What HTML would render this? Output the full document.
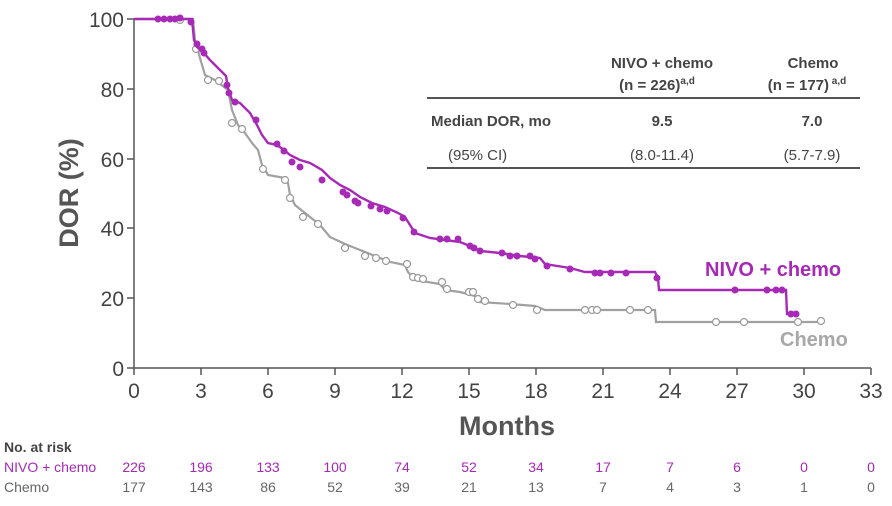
<!DOCTYPE html>
<html><head><meta charset="utf-8"><style>
html,body{margin:0;padding:0;background:#fff;}
svg{display:block;font-family:"Liberation Sans",sans-serif;}
</style></head><body>
<svg width="892" height="506" viewBox="0 0 892 506" xmlns="http://www.w3.org/2000/svg">
<line x1="134" y1="19" x2="134" y2="368" stroke="#555" stroke-width="1.5"/>
<line x1="134" y1="368" x2="871" y2="368" stroke="#555" stroke-width="1.5"/>
<g stroke="#555" stroke-width="1.5">
<line x1="127" y1="19" x2="134" y2="19"/><line x1="127" y1="89" x2="134" y2="89"/><line x1="127" y1="159" x2="134" y2="159"/><line x1="127" y1="228" x2="134" y2="228"/><line x1="127" y1="298" x2="134" y2="298"/><line x1="127" y1="368" x2="134" y2="368"/>
<line x1="134" y1="368" x2="134" y2="375"/><line x1="201" y1="368" x2="201" y2="375"/><line x1="268" y1="368" x2="268" y2="375"/><line x1="335" y1="368" x2="335" y2="375"/><line x1="402" y1="368" x2="402" y2="375"/><line x1="469" y1="368" x2="469" y2="375"/><line x1="536" y1="368" x2="536" y2="375"/><line x1="603" y1="368" x2="603" y2="375"/><line x1="670" y1="368" x2="670" y2="375"/><line x1="737" y1="368" x2="737" y2="375"/><line x1="804" y1="368" x2="804" y2="375"/><line x1="871" y1="368" x2="871" y2="375"/>
</g>
<g fill="#444" font-size="21" text-anchor="end">
<text x="124" y="27">100</text><text x="124" y="97">80</text><text x="124" y="167">60</text><text x="124" y="236">40</text><text x="124" y="306">20</text><text x="124" y="376">0</text>
</g>
<g fill="#444" font-size="21" text-anchor="middle">
<text x="134" y="398">0</text><text x="201" y="398">3</text><text x="268" y="398">6</text><text x="335" y="398">9</text><text x="402" y="398">12</text><text x="469" y="398">15</text><text x="536" y="398">18</text><text x="603" y="398">21</text><text x="670" y="398">24</text><text x="737" y="398">27</text><text x="804" y="398">30</text><text x="871" y="398">33</text>
</g>
<text x="507" y="435" fill="#555" font-size="27" font-weight="bold" text-anchor="middle">Months</text>
<text transform="translate(78,193) rotate(-90)" fill="#555" font-size="27" font-weight="bold" text-anchor="middle">DOR (%)</text>

<polyline fill="none" stroke="#a0a0a0" stroke-width="2.2" points="134,19 193,19 195,40 200,58 205,75 215,80 228,90 232,110 238,125 245,133 252,143 258,150 262,165 268,175 285,178 288,183 290,195 295,205 305,213 320,225 330,237 345,244 360,250 375,256 390,262 405,265 408,272 415,280 440,284 445,290 460,292 475,296 480,302 510,304 535,306 545,310 655,310 656,322 822,322"/>
<g fill="#fff" stroke="#999" stroke-width="1.2">
<circle cx="180" cy="20" r="3.5"/><circle cx="196" cy="49" r="3.5"/><circle cx="208" cy="80" r="3.5"/><circle cx="219" cy="81" r="3.5"/><circle cx="232" cy="123" r="3.5"/><circle cx="242" cy="129" r="3.5"/><circle cx="263" cy="169" r="3.5"/><circle cx="285" cy="180" r="3.5"/><circle cx="290" cy="198" r="3.5"/><circle cx="303" cy="217" r="3.5"/><circle cx="318" cy="224" r="3.5"/><circle cx="345" cy="248" r="3.5"/><circle cx="365" cy="256" r="3.5"/><circle cx="376" cy="258" r="3.5"/><circle cx="386" cy="261" r="3.5"/><circle cx="407" cy="264" r="3.5"/><circle cx="413" cy="277" r="3.5"/><circle cx="418" cy="278" r="3.5"/><circle cx="423" cy="279" r="3.5"/><circle cx="442" cy="282" r="3.5"/><circle cx="447" cy="289" r="3.5"/><circle cx="469" cy="292" r="3.5"/><circle cx="473" cy="292" r="3.5"/><circle cx="478" cy="299" r="3.5"/><circle cx="485" cy="301" r="3.5"/><circle cx="513" cy="305" r="3.5"/><circle cx="537" cy="310" r="3.5"/><circle cx="585" cy="310" r="3.5"/><circle cx="592" cy="310" r="3.5"/><circle cx="597" cy="310" r="3.5"/><circle cx="630" cy="310" r="3.5"/><circle cx="648" cy="310" r="3.5"/><circle cx="716" cy="322" r="3.5"/><circle cx="744" cy="322" r="3.5"/><circle cx="798" cy="322" r="3.5"/><circle cx="821" cy="321" r="3.5"/>
</g>

<polyline fill="none" stroke="#a72ab6" stroke-width="2.4" points="134,19 192,19 194,40 197,47 203,52 210,60 222,72 226,76 228,88 232,100 240,103 250,113 257,125 262,135 268,143 277,145 284,150 290,155 300,160 310,163 322,170 330,178 340,185 350,190 360,197 372,203 385,207 398,213 405,217 410,225 415,233 430,238 445,240 460,242 470,246 480,251 500,253 520,256 540,258 545,264 570,268 585,272 655,272 658,278 659,290 786,290 787,314 797,314"/>
<g fill="#a72ab6">
<circle cx="158" cy="19" r="3.5"/><circle cx="164" cy="19" r="3.5"/><circle cx="170" cy="19" r="3.5"/><circle cx="175" cy="19" r="3.5"/><circle cx="180" cy="18" r="3.5"/><circle cx="191" cy="22" r="3.5"/><circle cx="197" cy="44" r="3.5"/><circle cx="202" cy="49" r="3.5"/><circle cx="204" cy="53" r="3.5"/><circle cx="227" cy="85" r="3.5"/><circle cx="229" cy="93" r="3.5"/><circle cx="235" cy="102" r="3.5"/><circle cx="256" cy="120" r="3.5"/><circle cx="277" cy="144" r="3.5"/><circle cx="284" cy="151" r="3.5"/><circle cx="292" cy="162" r="3.5"/><circle cx="300" cy="167" r="3.5"/><circle cx="322" cy="180" r="3.5"/><circle cx="343" cy="192" r="3.5"/><circle cx="347" cy="195" r="3.5"/><circle cx="355" cy="201" r="3.5"/><circle cx="358" cy="203" r="3.5"/><circle cx="371" cy="206" r="3.5"/><circle cx="380" cy="209" r="3.5"/><circle cx="387" cy="211" r="3.5"/><circle cx="403" cy="218" r="3.5"/><circle cx="414" cy="232" r="3.5"/><circle cx="440" cy="239" r="3.5"/><circle cx="447" cy="239" r="3.5"/><circle cx="458" cy="239" r="3.5"/><circle cx="470" cy="246" r="3.5"/><circle cx="474" cy="248" r="3.5"/><circle cx="480" cy="251" r="3.5"/><circle cx="502" cy="253" r="3.5"/><circle cx="510" cy="256" r="3.5"/><circle cx="517" cy="256" r="3.5"/><circle cx="530" cy="256" r="3.5"/><circle cx="535" cy="259" r="3.5"/><circle cx="547" cy="266" r="3.5"/><circle cx="570" cy="269" r="3.5"/><circle cx="595" cy="273" r="3.5"/><circle cx="600" cy="273" r="3.5"/><circle cx="611" cy="273" r="3.5"/><circle cx="626" cy="273" r="3.5"/><circle cx="657" cy="278" r="3.5"/><circle cx="735" cy="290" r="3.5"/><circle cx="767" cy="290" r="3.5"/><circle cx="776" cy="290" r="3.5"/><circle cx="782" cy="290" r="3.5"/><circle cx="791" cy="314" r="3.5"/><circle cx="796" cy="314" r="3.5"/>
</g>
<text x="705" y="276" fill="#a72ab6" font-size="20" font-weight="bold">NIVO + chemo</text>
<text x="780" y="346" fill="#a8a8a8" font-size="20" font-weight="bold">Chemo</text>

<line x1="427" y1="98" x2="860" y2="98" stroke="#555" stroke-width="2"/>
<line x1="427" y1="168" x2="860" y2="168" stroke="#555" stroke-width="2"/>
<g fill="#444" font-size="15" font-weight="bold" text-anchor="middle">
<text x="662" y="68">NIVO + chemo</text>
<text x="657" y="90">(n = 226)<tspan font-size="10" dy="-6">a,d</tspan></text>
<text x="813" y="68">Chemo</text>
<text x="807" y="90">(n = 177)<tspan font-size="10" dy="-6"> a,d</tspan></text>
<text x="662" y="126">9.5</text>
<text x="812" y="126">7.0</text>
</g>
<text x="431" y="126" fill="#444" font-size="15" font-weight="bold">Median DOR, mo</text>
<text x="448" y="160" fill="#444" font-size="15">(95% CI)</text>
<g fill="#444" font-size="15" text-anchor="middle">
<text x="662" y="160">(8.0-11.4)</text>
<text x="812" y="160">(5.7-7.9)</text>
</g>

<text x="4" y="452" fill="#444" font-size="14" font-weight="bold">No. at risk</text>
<text x="4" y="472" fill="#a72ab6" font-size="14">NIVO + chemo</text>
<text x="4" y="492" fill="#666" font-size="14">Chemo</text>
<g fill="#a72ab6" font-size="14" text-anchor="middle">
<text x="134" y="472">226</text><text x="201" y="472">196</text><text x="268" y="472">133</text><text x="335" y="472">100</text><text x="402" y="472">74</text><text x="469" y="472">52</text><text x="536" y="472">34</text><text x="603" y="472">17</text><text x="670" y="472">7</text><text x="737" y="472">6</text><text x="804" y="472">0</text><text x="871" y="472">0</text>
</g>
<g fill="#666" font-size="14" text-anchor="middle">
<text x="134" y="492">177</text><text x="201" y="492">143</text><text x="268" y="492">86</text><text x="335" y="492">52</text><text x="402" y="492">39</text><text x="469" y="492">21</text><text x="536" y="492">13</text><text x="603" y="492">7</text><text x="670" y="492">4</text><text x="737" y="492">3</text><text x="804" y="492">1</text><text x="871" y="492">0</text>
</g>
</svg>
</body></html>
